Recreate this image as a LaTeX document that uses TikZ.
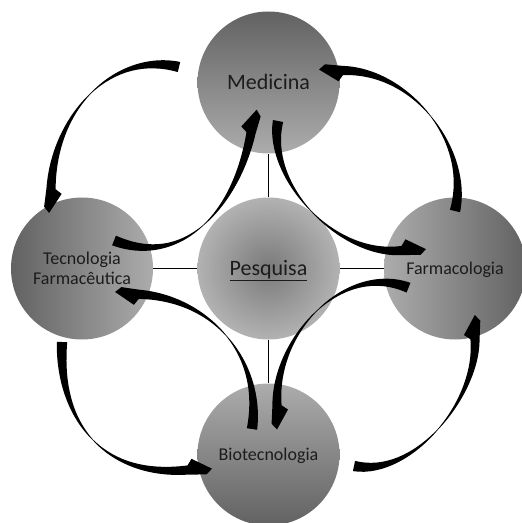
\documentclass[tikz,border=0pt]{standalone}
\usepackage{fontspec}
\setmainfont{Carlito}
\usetikzlibrary{calc}

\definecolor{shadedark}{RGB}{98,98,98}
\definecolor{shadelight}{RGB}{172,172,172}
\definecolor{corecenter}{RGB}{122,122,122}
\definecolor{coreedge}{RGB}{178,178,178}
\definecolor{labeltext}{RGB}{28,28,28}

% Curved block arrow: thick tail, tapering to a hairline half way,
% thickening again and ending in a one-sided head.
% #1 source node, #2 tail offset from it, #3 tail handle,
% #4 target node, #5 head-base offset from it, #6 head handle
\newcommand\loopArrow[6]{%
  \coordinate (p0) at ($(#1)+(#2)$);
  \coordinate (p1) at ($(p0)+(#3)$);
  \coordinate (p3) at ($(#4)+(#5)$);
  \coordinate (p2) at ($(p3)+(#6)$);
  % split the centre line in two halves
  \coordinate (q01) at ($(p0)!0.5!(p1)$);
  \coordinate (q12) at ($(p1)!0.5!(p2)$);
  \coordinate (q23) at ($(p2)!0.5!(p3)$);
  \coordinate (r0) at ($(q01)!0.5!(q12)$);
  \coordinate (r1) at ($(q12)!0.5!(q23)$);
  \coordinate (m) at ($(r0)!0.5!(r1)$);
  % outer edge
  \coordinate (oa) at ($(p0)!5.2bp!-90:(p1)$);
  \coordinate (ob) at ($(q01)!3.9bp!-90:(p1)$);
  \coordinate (oc) at ($(r0)!1.6bp!-90:(m)$);
  \coordinate (om) at ($(m)!0.3bp!-90:(r1)$);
  \coordinate (od) at ($(r1)!1.4bp!90:(m)$);
  \coordinate (oe) at ($(q23)!3.4bp!-90:(p3)$);
  \coordinate (of) at ($(p3)!4.6bp!90:(p2)$);
  % inner edge
  \coordinate (ia) at ($(p0)!5.2bp!90:(p1)$);
  \coordinate (ib) at ($(q01)!3.9bp!90:(p1)$);
  \coordinate (ic) at ($(r0)!1.6bp!90:(m)$);
  \coordinate (im) at ($(m)!0.3bp!90:(r1)$);
  \coordinate (id) at ($(r1)!1.4bp!-90:(m)$);
  \coordinate (ie) at ($(q23)!3.4bp!90:(p3)$);
  \coordinate (if) at ($(p3)!4.6bp!-90:(p2)$);
  % head: outer barb, tip, inner barb
  \coordinate (e1) at ($(p3)!18bp!180:(p2)$);
  \coordinate (et) at ($(p3)!24bp!180:(p2)$);
  \coordinate (e3) at ($(p3)!4.5bp!180:(p2)$);
  \coordinate (h1) at ($(e1)!6.2bp!90:(p3)$);
  \coordinate (ht) at ($(et)!1bp!90:(p3)$);
  \coordinate (h3) at ($(e3)!10.8bp!-90:(p3)$);
  \fill[arrowfill] (oa) .. controls (ob) and (oc) .. (om)
    .. controls (od) and (oe) .. (of) -- (h1) -- (ht) -- (h3) -- (if)
    .. controls (ie) and (id) .. (im) .. controls (ic) and (ib) .. (ia) -- cycle;
}

\begin{document}
\begin{tikzpicture}[x=1bp,y=-1bp,
  orb/.style={circle, minimum size=142bp, inner sep=0pt, text=labeltext},
  bigtext/.style={font=\fontsize{22bp}{26bp}\selectfont, text height=14.1bp, text depth=0pt},
  smalltext/.style={font=\fontsize{18bp}{20bp}\selectfont, text height=11.6bp, text depth=0pt},
  twoline/.style={font=\fontsize{18bp}{20.5bp}\selectfont, align=center},
  linkline/.style={line width=1.2bp, black},
  arrowfill/.style={fill=black}]
\useasboundingbox (0,0) rectangle (522,523);

% the five areas
\node[orb, bigtext, top color=shadedark, bottom color=shadelight] (med) at (268.5,82.5) {Medicina};
\node[orb, bigtext, inner color=corecenter, outer color=coreedge] (pes) at (268.5,268.5) {\underline{Pesquisa}};
\node[orb, twoline, left color=shadedark, right color=shadelight] (tec) at (82,268.5) {Tecnologia\\Farmacêutica};
\node[orb, smalltext, left color=shadelight, right color=shadedark] (far) at (455,268.5) {Farmacologia};
\node[orb, smalltext, top color=shadelight, bottom color=shadedark] (bio) at (268.5,454.5) {Biotecnologia};

% research linked to every area
\draw[linkline] (pes) -- (med);
\draw[linkline] (pes) -- (tec);
\draw[linkline] (pes) -- (far);
\draw[linkline] (pes) -- (bio);

% exchange loops between neighbouring areas
\loopArrow{med}{-89.5,-15.5}{-66,-16}{tec}{-31,-79.5}{3,-78}
\loopArrow{tec}{32,-28}{70,28}{med}{-17.5,50.5}{-15,75}
\loopArrow{med}{9.5,38.5}{-12,61}{far}{-53,-18}{-65,6.5}
\loopArrow{far}{0,-57.5}{16,-66}{med}{74.5,-12}{68,0}
\loopArrow{tec}{-20,73.5}{-4,82}{bio}{-80.5,15.5}{-82,8}
\loopArrow{bio}{-16.5,-25.5}{11,-72}{tec}{57,25.8}{72,4}
\loopArrow{far}{-46.5,19.2}{-65,-26}{bio}{8.5,-49}{-3,-70.5}
\loopArrow{bio}{85.5,11.5}{59,12}{far}{20,70.5}{3,60}
\end{tikzpicture}
\end{document}
